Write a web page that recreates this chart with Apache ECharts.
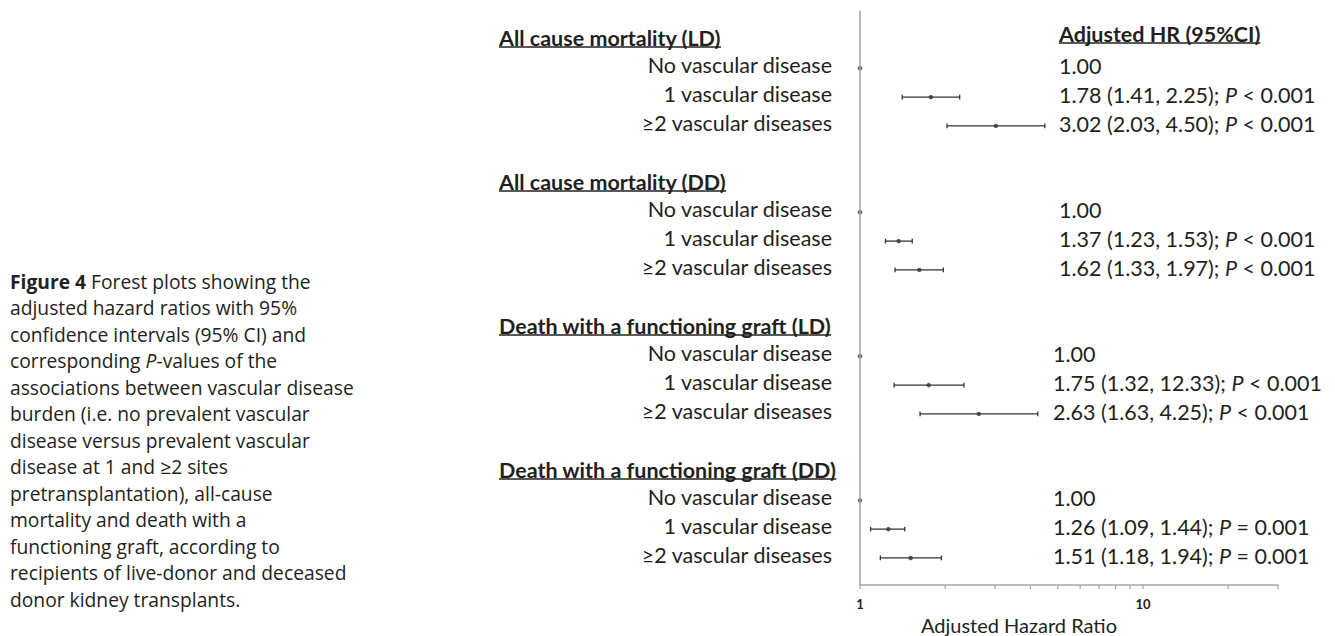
<!DOCTYPE html>
<html>
<head>
<meta charset="utf-8">
<script src="https://cdn.jsdelivr.net/npm/echarts@6/dist/echarts.min.js"></script>
<style>
  html, body { margin: 0; padding: 0; background: #fff; }
  #chart { width: 1335px; height: 636px; }
</style>
</head>
<body>
<div id="chart"></div>
<script>
// data
const groups = ['All cause mortality (LD)', 'All cause mortality (DD)', 'Death with a functioning graft (LD)', 'Death with a functioning graft (DD)'];
const subgroups = ['No vascular disease', '1 vascular disease', '≥2 vascular diseases'];
const hr    = [1.00, 1.78, 3.02, 1.00, 1.37, 1.62, 1.00, 1.75, 2.63, 1.00, 1.26, 1.51];
const lower = [null, 1.41, 2.03, null, 1.23, 1.33, null, 1.32, 1.63, null, 1.09, 1.18];
const upper = [null, 2.25, 4.50, null, 1.53, 1.97, null, 2.33, 4.25, null, 1.44, 1.94];
// printed text (kept as printed, incl. the 12.33)
const hrText = ['1.00', '1.78 (1.41, 2.25)', '3.02 (2.03, 4.50)', '1.00', '1.37 (1.23, 1.53)', '1.62 (1.33, 1.97)',
  '1.00', '1.75 (1.32, 12.33)', '2.63 (1.63, 4.25)', '1.00', '1.26 (1.09, 1.44)', '1.51 (1.18, 1.94)'];
const pText = ['', '< 0.001', '< 0.001', '', '< 0.001', '< 0.001', '', '< 0.001', '< 0.001', '', '= 0.001', '= 0.001'];
const hrHeader = 'Adjusted HR (95%CI)';
const xTicks = [1, 2, 3, 4, 5, 6, 7, 8, 9, 10, 20, 30];
const xLabels = [1, 10];
const captionLines = [
  '{b|Figure 4} Forest plots showing the',
  'adjusted hazard ratios with 95%',
  'confidence intervals (95% CI) and',
  'corresponding {i|P}-values of the',
  'associations between vascular disease',
  'burden (i.e. no prevalent vascular',
  'disease versus prevalent vascular',
  'disease at 1 and ≥2 sites',
  'pretransplantation), all-cause',
  'mortality and death with a',
  'functioning graft, according to',
  'recipients of live-donor and deceased',
  'donor kidney transplants.'
];

// font size fitting with canvas measure
const mctx = document.createElement('canvas').getContext('2d');
function fit(str, family, weight, target) {
  mctx.font = weight + ' 100px ' + family;
  return Math.round(target * 100 / mctx.measureText(str).width * 4) / 4;
}
const chartFont = 'Lato';
const capFont = "'Open Sans'";
const labelSize = fit('No vascular disease', chartFont, 'normal', 185);
const capSize = fit('recipients of live-donor and deceased', capFont, 'normal', 336);
const nameSize = fit('Adjusted Hazard Ratio', chartFont, 'normal', 195);
const textColor = '#231f20';

// rows: header of each group, then its 3 subgroups, then a gap
const rows = [];
groups.forEach((g, gi) => {
  rows.push({ row: gi * 5, left: g, header: true, gi });
  subgroups.forEach((s, si) => rows.push({ row: gi * 5 + 1 + si, left: s, k: gi * 3 + si, gi }));
});
const itemRow = (k) => Math.floor(k / 3) * 5 + 1 + (k % 3);

const dots = hr.map((v, k) => [v, itemRow(k)]);
const whiskers = [];
hr.forEach((v, k) => { if (lower[k] != null) whiskers.push([lower[k], upper[k], itemRow(k)]); });

const chart = echarts.init(document.getElementById('chart'), null, { renderer: 'svg' });

function textStyle(text, size, weight, align) {
  return {
    text: text, fill: textColor, fontFamily: chartFont, fontSize: size, fontWeight: weight,
    align: align, verticalAlign: 'middle',
    rich: { i: { fontStyle: 'italic', fontFamily: chartFont, fontSize: size, fill: textColor } }
  };
}

const option = {
  animation: false,
  grid: { left: 860, right: 57, top: 10.7, bottom: 51, outerBoundsMode: 'none' },
  xAxis: {
    type: 'log', logBase: 10, min: 1, max: 30,
    axisLine: { onZero: false, lineStyle: { color: '#a6a6a6', width: 1.5 } },
    axisTick: { show: false },
    splitLine: { show: false },
    axisLabel: {
      margin: 12, fontSize: 13, fontWeight: 'bold', color: '#222', fontFamily: chartFont,
      formatter: (v) => xLabels.some(l => Math.abs(l - v) < 1e-6) ? String(Math.round(v)) : ''
    },
    name: 'Adjusted Hazard Ratio', nameLocation: 'middle', nameGap: 27,
    nameTextStyle: { fontFamily: chartFont, fontSize: nameSize, color: textColor, padding: [0, 100, 0, 0] }
  },
  yAxis: { type: 'value', inverse: true, min: -1, max: 18.94, show: false },
  series: [
    {
      // minor and major ticks of the log axis, pointing down
      type: 'custom', clip: false, silent: true,
      data: xTicks.map(v => [v]),
      renderItem: (params, api) => {
        const c = api.coord([api.value(0), 18.94]);
        return { type: 'line', shape: { x1: c[0], y1: c[1], x2: c[0], y2: c[1] + 4 }, style: { stroke: '#a6a6a6', lineWidth: 1.2 } };
      }
    },
    {
      type: 'custom', clip: false, silent: true,
      data: whiskers,
      encode: { x: [0, 1], y: 2 },
      renderItem: (params, api) => {
        const y = api.value(2);
        const a = api.coord([api.value(0), y]);
        const b = api.coord([api.value(1), y]);
        const st = { stroke: '#333', lineWidth: 1.3 };
        return {
          type: 'group', children: [
            { type: 'line', shape: { x1: a[0], y1: a[1], x2: b[0], y2: b[1] }, style: st },
            { type: 'line', shape: { x1: a[0], y1: a[1] - 2.4, x2: a[0], y2: a[1] + 2.4 }, style: st },
            { type: 'line', shape: { x1: b[0], y1: b[1] - 2.4, x2: b[0], y2: b[1] + 2.4 }, style: st }
          ]
        };
      },
      markLine: {
        silent: true, symbol: 'none', label: { show: false },
        lineStyle: { color: '#a6a6a6', width: 1.5, type: 'solid' },
        data: [{ xAxis: 1 }]
      }
    },
    {
      type: 'scatter', symbol: 'circle', symbolSize: 4.5, silent: true,
      itemStyle: { color: '#333' },
      data: dots, z: 3
    },
    {
      // row texts: left labels / headers, right HR text
      type: 'custom', clip: false, silent: true,
      data: rows.map(r => [1, r.row]),
      renderItem: (params, api) => {
        const r = rows[params.dataIndex];
        const c = api.coord([1, r.row]);
        const rightX = c[0] + (r.gi < 2 ? 199 : 193);
        const children = [];
        if (r.header) {
          const x0 = c[0] - 361, y0 = c[1] - 2;
          mctx.font = 'bold ' + labelSize + 'px ' + chartFont;
          const w = mctx.measureText(r.left).width;
          children.push({ type: 'text', x: x0, y: y0, style: textStyle(r.left, labelSize, 'bold', 'left') });
          children.push({ type: 'line', shape: { x1: x0, y1: y0 + 9.5, x2: x0 + w, y2: y0 + 9.5 }, style: { stroke: textColor, lineWidth: 1.5 } });
          if (r.gi === 0) {
            const y1 = c[1] - 6;
            const w2 = mctx.measureText(hrHeader).width;
            children.push({ type: 'text', x: rightX, y: y1, style: textStyle(hrHeader, labelSize, 'bold', 'left') });
            children.push({ type: 'line', shape: { x1: rightX, y1: y1 + 9.5, x2: rightX + w2, y2: y1 + 9.5 }, style: { stroke: textColor, lineWidth: 1.5 } });
          }
        } else {
          children.push({ type: 'text', x: c[0] - 28, y: c[1] - 3, style: textStyle(r.left, labelSize, 'normal', 'right') });
          const t = pText[r.k] ? hrText[r.k] + '; {i|P} ' + pText[r.k] : hrText[r.k];
          children.push({ type: 'text', x: rightX, y: c[1] - 2, style: textStyle(t, labelSize, 'normal', 'left') });
        }
        return { type: 'group', children: children };
      }
    }
  ],
  graphic: [
    {
      type: 'text', left: 10, top: 268, silent: true,
      style: {
        text: captionLines.join('\n'),
        fill: textColor, fontFamily: capFont, fontSize: capSize, lineHeight: 26.5,
        rich: {
          b: { fontWeight: 'bold', fontFamily: capFont, fontSize: capSize, lineHeight: 26.5, fill: textColor },
          i: { fontStyle: 'italic', fontFamily: capFont, fontSize: capSize, lineHeight: 26.5, fill: textColor }
        }
      }
    }
  ]
};

chart.setOption(option);
</script>
</body>
</html>
